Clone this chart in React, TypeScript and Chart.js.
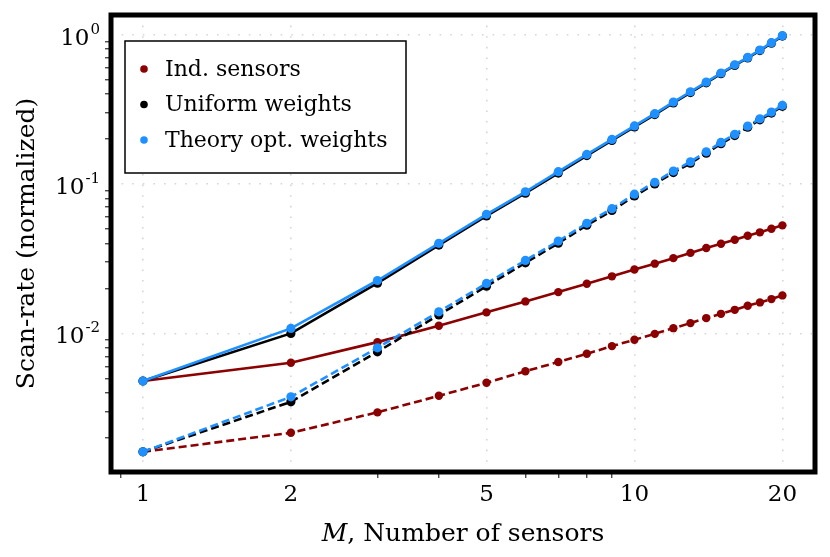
import { useEffect, useRef } from 'react';
import { Chart, registerables } from 'chart.js';

Chart.register(...registerables);

// M, number of sensors
const sensors = [1, 2, 3, 4, 5, 6, 7, 8, 9, 10, 11, 12, 13, 14, 15, 16, 17, 18, 19, 20];

// scan-rate (normalized), solid and dashed curves per method
const indSolid = [0.0048, 0.00636, 0.00874, 0.01125, 0.01383, 0.01637, 0.0189, 0.0215, 0.0241, 0.0268, 0.0293, 0.0319, 0.0346, 0.0373, 0.0398, 0.0424, 0.0451, 0.0475, 0.0502, 0.0529];
const indDashed = [0.00161, 0.00216, 0.00296, 0.00382, 0.00467, 0.00558, 0.00643, 0.0073, 0.00822, 0.00906, 0.00993, 0.01084, 0.01172, 0.01266, 0.01352, 0.01438, 0.01531, 0.01612, 0.01697, 0.01796];
const uniformSolid = [0.0048, 0.01, 0.0217, 0.039, 0.0611, 0.0868, 0.1185, 0.1552, 0.1958, 0.2412, 0.292, 0.3495, 0.41, 0.4765, 0.5485, 0.623, 0.6985, 0.7835, 0.8775, 0.979];
const uniformDashed = [0.00161, 0.00348, 0.00753, 0.0133, 0.0207, 0.0297, 0.0402, 0.053, 0.0665, 0.0832, 0.1002, 0.1193, 0.1378, 0.161, 0.1862, 0.2112, 0.2402, 0.269, 0.2985, 0.3315];
const optSolid = [0.0048, 0.0108, 0.0226, 0.0401, 0.0627, 0.0888, 0.121, 0.158, 0.199, 0.245, 0.296, 0.354, 0.415, 0.482, 0.554, 0.629, 0.705, 0.79, 0.884, 0.985];
const optDashed = [0.00161, 0.00376, 0.008, 0.01395, 0.0216, 0.0308, 0.0415, 0.0546, 0.0684, 0.0855, 0.1028, 0.1222, 0.141, 0.1644, 0.19, 0.2153, 0.2446, 0.2737, 0.3035, 0.3366];

const legendLabels = ['Ind. sensors', 'Uniform weights', 'Theory opt. weights'];

// ticks
const xMajor = [1, 2, 5, 10, 20];
const xTickLabels = ['1', '2', '5', '10', '20'];
const xMinor = [0.9, 3, 4, 6, 7, 8, 9];
const yMajor = [0.01, 0.1, 1];
const yTickBase = '10';
const yTickExp = ['-2', '-1', '0'];
const yMinor = [
  0.002, 0.003, 0.004, 0.005, 0.006, 0.007, 0.008, 0.009,
  0.02, 0.03, 0.04, 0.05, 0.06, 0.07, 0.08, 0.09,
  0.2, 0.3, 0.4, 0.5, 0.6, 0.7, 0.8, 0.9,
];

const xTitleVar = 'M';
const xTitleRest = ', Number of sensors';
const yTitle = 'Scan-rate (normalized)';

const RED = '#8b0000';
const BLACK = '#000000';
const BLUE = '#1e90ff';
const SERIF = '"DejaVu Serif"';

const pts = (ys: number[]) => sensors.map((m, i) => ({ x: m, y: ys[i] }));

function series(label: string, ys: number[], color: string, dashed: boolean, order: number, r: number) {
  return {
    label,
    data: pts(ys),
    borderColor: color,
    backgroundColor: color,
    pointBackgroundColor: color,
    pointBorderWidth: 0,
    pointRadius: r,
    borderWidth: 2.6,
    borderDash: dashed ? [8, 4] : [],
    order,
  };
}

const framePlugin = {
  id: 'frameAndLegend',
  afterDraw(chart: any) {
    const { ctx, chartArea: a } = chart;
    const xs = chart.scales.x;
    const ys = chart.scales.y;
    ctx.save();
    // heavy frame
    ctx.strokeStyle = '#000';
    ctx.lineWidth = 5;
    ctx.lineJoin = 'miter';
    ctx.strokeRect(a.left, a.top, a.right - a.left, a.bottom - a.top);

    // tick labels
    ctx.fillStyle = '#000';
    ctx.textBaseline = 'alphabetic';
    ctx.textAlign = 'center';
    ctx.font = `23px ${SERIF}`;
    xMajor.forEach((v, i) => {
      ctx.fillText(xTickLabels[i], xs.getPixelForValue(v), 501);
    });
    ctx.textAlign = 'left';
    yMajor.forEach((v, i) => {
      const py = ys.getPixelForValue(v);
      ctx.font = `15px ${SERIF}`;
      const we = ctx.measureText(yTickExp[i]).width;
      ctx.font = `23px ${SERIF}`;
      const wb = ctx.measureText(yTickBase).width;
      const right = a.left - 11;
      ctx.fillText(yTickBase, right - we - 1 - wb, py + 10);
      ctx.font = `15px ${SERIF}`;
      ctx.fillText(yTickExp[i], right - we, py - 1);
    });

    // legend box
    const lx = a.left + 14;
    const ly = a.top + 26;
    ctx.fillStyle = '#fff';
    ctx.fillRect(lx, ly, 281, 132);
    ctx.lineWidth = 1.5;
    ctx.strokeRect(lx, ly, 281, 132);
    const colors = [RED, BLACK, BLUE];
    ctx.font = `22px ${SERIF}`;
    ctx.textBaseline = 'middle';
    ctx.textAlign = 'left';
    legendLabels.forEach((t, i) => {
      const cy = ly + 28 + i * 35.5;
      ctx.fillStyle = colors[i];
      ctx.beginPath();
      ctx.arc(lx + 19, cy, 3.8, 0, Math.PI * 2);
      ctx.fill();
      ctx.fillStyle = '#000';
      ctx.fillText(t, lx + 40, cy + 1);
    });

    // x axis title with italic M
    ctx.textBaseline = 'alphabetic';
    ctx.font = `italic 25px ${SERIF}`;
    const w1 = ctx.measureText(xTitleVar).width;
    ctx.font = `25px ${SERIF}`;
    const w2 = ctx.measureText(xTitleRest).width;
    const x0 = (a.left + a.right) / 2 - (w1 + w2) / 2;
    ctx.fillStyle = '#000';
    ctx.font = `italic 25px ${SERIF}`;
    ctx.fillText(xTitleVar, x0, 541);
    ctx.font = `25px ${SERIF}`;
    ctx.fillText(xTitleRest, x0 + w1, 541);
    ctx.restore();
  },
};

export default function App() {
  const chartRef = useRef<HTMLCanvasElement | null>(null);

  useEffect(() => {
    let chart: Chart | null = null;
    if (chartRef.current) {
      const gridDash = [1.6, 9];
      chart = new Chart(chartRef.current, {
        type: 'line',
        data: {
          datasets: [
            series(legendLabels[0], indSolid, RED, false, 2, 4.2),
            series(legendLabels[0], indDashed, RED, true, 2, 4.2),
            series(legendLabels[1], uniformSolid, BLACK, false, 1, 4.6),
            series(legendLabels[1], uniformDashed, BLACK, true, 1, 4.6),
            series(legendLabels[2], optSolid, BLUE, false, 0, 4.6),
            series(legendLabels[2], optDashed, BLUE, true, 0, 4.6),
          ] as any,
        },
        options: {
          animation: false,
          responsive: false,
          layout: { padding: { left: 0, top: 15, right: 15, bottom: 0 } },
          plugins: { legend: { display: false }, tooltip: { enabled: false } },
          scales: {
            x: {
              type: 'logarithmic',
              min: 0.861,
              max: 23.3,
              afterBuildTicks: (s: any) => {
                s.ticks = [...xMinor, ...xMajor].sort((p, q) => p - q).map((v) => ({ value: v }));
              },
              afterFit: (s: any) => {
                s.height = 85;
              },
              ticks: { display: false, autoSkip: false, maxRotation: 0 },
              grid: {
                color: (c: any) => (c.tick && xMajor.includes(c.tick.value) ? '#d6d6d6' : 'rgba(0,0,0,0)'),
                tickColor: (c: any) => (c.tick && xMajor.includes(c.tick.value) ? 'rgba(0,0,0,0)' : '#000'),
                lineWidth: 1.6,
                tickWidth: 1,
                tickLength: 6,
              },
              border: { display: false, dash: gridDash },
            },
            y: {
              type: 'logarithmic',
              min: 0.00118,
              max: 1.355,
              afterBuildTicks: (s: any) => {
                s.ticks = [...yMinor, ...yMajor].sort((p, q) => p - q).map((v) => ({ value: v }));
              },
              afterFit: (s: any) => {
                s.width = 111;
              },
              ticks: { display: false, autoSkip: false },
              grid: {
                color: (c: any) => (c.tick && yMajor.includes(c.tick.value) ? '#d6d6d6' : 'rgba(0,0,0,0)'),
                tickColor: (c: any) => (c.tick && yMajor.includes(c.tick.value) ? 'rgba(0,0,0,0)' : '#000'),
                lineWidth: 1.6,
                tickWidth: 1,
                tickLength: 6,
              },
              border: { display: false, dash: gridDash },
              title: {
                display: true,
                text: yTitle,
                color: '#000',
                font: { family: SERIF, size: 25 },
                padding: { top: 12, bottom: 0 },
              },
            },
          },
        },
        plugins: [framePlugin],
      });
    }
    return () => {
      if (chart) chart.destroy();
    };
  }, []);

  return (
    <div style={{ position: 'fixed', left: 0, top: 0, width: 830, height: 557, background: '#fff' }}>
      <canvas ref={chartRef} width={830} height={557} style={{ display: 'block' }}></canvas>
    </div>
  );
}
